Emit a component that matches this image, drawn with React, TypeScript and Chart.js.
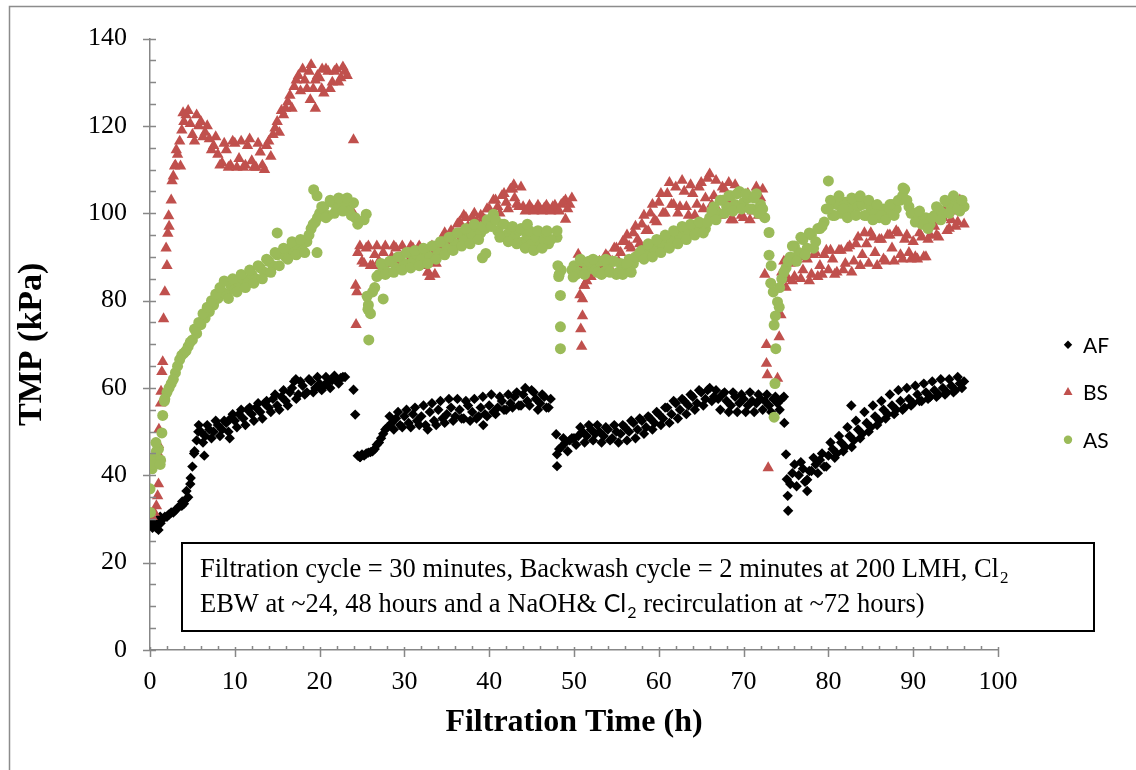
import React, { useEffect, useRef } from "react";
import { Chart, registerables } from "chart.js";

Chart.register(...registerables);

// Filtration time grid (h), primary readings
const hours = [
  0, 0.5, 1, 1.5, 2, 2.5, 3, 3.5, 4, 4.5, 5, 5.5, 6, 6.5, 7, 7.5, 8, 8.5, 9, 9.5,
  10, 10.5, 11, 11.5, 12, 12.5, 13, 13.5, 14, 14.5, 15, 15.5, 16, 16.5, 17, 17.5, 18, 18.5, 19, 19.5,
  20, 20.5, 21, 21.5, 22, 22.5, 23, 23.5, 24, 24.5, 25, 25.5, 26, 26.5, 27, 27.5, 28, 28.5, 29, 29.5,
  30, 30.5, 31, 31.5, 32, 32.5, 33, 33.5, 34, 34.5, 35, 35.5, 36, 36.5, 37, 37.5, 38, 38.5, 39, 39.5,
  40, 40.5, 41, 41.5, 42, 42.5, 43, 43.5, 44, 44.5, 45, 45.5, 46, 46.5, 47, 47.5, 48, 48.5, 49, 49.5,
  50, 50.5, 51, 51.5, 52, 52.5, 53, 53.5, 54, 54.5, 55, 55.5, 56, 56.5, 57, 57.5, 58, 58.5, 59, 59.5,
  60, 60.5, 61, 61.5, 62, 62.5, 63, 63.5, 64, 64.5, 65, 65.5, 66, 66.5, 67, 67.5, 68, 68.5, 69, 69.5,
  70, 70.5, 71, 71.5, 72, 72.5, 73, 73.5, 74, 74.5, 75, 75.5, 76, 76.5, 77, 77.5, 78, 78.5, 79, 79.5,
  80, 80.5, 81, 81.5, 82, 82.5, 83, 83.5, 84, 84.5, 85, 85.5, 86, 86.5, 87, 87.5, 88, 88.5, 89, 89.5,
  90, 90.5, 91, 91.5, 92, 92.5, 93, 93.5, 94, 94.5, 95, 95.5, 96,
];

// Filtration time grid (h), intermediate readings
const hoursB = [
  0.25, 0.75, 1.25, 1.75, 2.25, 2.75, 3.25, 3.75, 4.25, 4.75, 5.25, 5.75, 6.25, 6.75, 7.25, 7.75, 8.25, 8.75, 9.25, 9.75,
  10.25, 10.75, 11.25, 11.75, 12.25, 12.75, 13.25, 13.75, 14.25, 14.75, 15.25, 15.75, 16.25, 16.75, 17.25, 17.75, 18.25, 18.75, 19.25, 19.75,
  20.25, 20.75, 21.25, 21.75, 22.25, 22.75, 23.25, 23.75, 24.25, 24.75, 25.25, 25.75, 26.25, 26.75, 27.25, 27.75, 28.25, 28.75, 29.25, 29.75,
  30.25, 30.75, 31.25, 31.75, 32.25, 32.75, 33.25, 33.75, 34.25, 34.75, 35.25, 35.75, 36.25, 36.75, 37.25, 37.75, 38.25, 38.75, 39.25, 39.75,
  40.25, 40.75, 41.25, 41.75, 42.25, 42.75, 43.25, 43.75, 44.25, 44.75, 45.25, 45.75, 46.25, 46.75, 47.25, 47.75, 48.25, 48.75, 49.25, 49.75,
  50.25, 50.75, 51.25, 51.75, 52.25, 52.75, 53.25, 53.75, 54.25, 54.75, 55.25, 55.75, 56.25, 56.75, 57.25, 57.75, 58.25, 58.75, 59.25, 59.75,
  60.25, 60.75, 61.25, 61.75, 62.25, 62.75, 63.25, 63.75, 64.25, 64.75, 65.25, 65.75, 66.25, 66.75, 67.25, 67.75, 68.25, 68.75, 69.25, 69.75,
  70.25, 70.75, 71.25, 71.75, 72.25, 72.75, 73.25, 73.75, 74.25, 74.75, 75.25, 75.75, 76.25, 76.75, 77.25, 77.75, 78.25, 78.75, 79.25, 79.75,
  80.25, 80.75, 81.25, 81.75, 82.25, 82.75, 83.25, 83.75, 84.25, 84.75, 85.25, 85.75, 86.25, 86.75, 87.25, 87.75, 88.25, 88.75, 89.25, 89.75,
  90.25, 90.75, 91.25, 91.75, 92.25, 92.75, 93.25, 93.75, 94.25, 94.75, 95.25, 95.75,
];

// AF TMP (kPa)
const afValues = [
  29, 28.5, 27.5, 30, 30.5, 31.5, 32, 33, 33.5, 35, 42, 48, 50, 49, 50.5, 50, 51.5, 50.5, 52, 53,
  52.5, 54, 53, 55, 54, 55.5, 54.5, 56.5, 55.5, 57.5, 56, 58, 57, 59, 61.5, 58.5, 60.5, 59, 61.5, 60,
  61, 60.5, 61.5, 61.8, 62, 62.3, 62.5, null, 59.6, 44.5, 44.8, 45, 45.3, 46, 47.5, 49.5, 51, 52, 53, 51.5,
  53.5, 52, 54, 52.5, 53.5, 51.5, 54.5, 52.5, 55, 53, 54, 55.5, 53.5, 55, 53, 56, 54.5, 53, 55.5, 54,
  56, 54.5, 55.5, 57, 55, 56.5, 58, 56, 58.5, 57, 59.5, 57.5, 56.5, 58, 55.5, null, 44.8, 46.5, 47.5, 48,
  48.5, 49, 50, 49, 50.5, 49.5, 50, 49, 50.5, 48.5, 50, 49.5, 51, 50, 52, 50.5, 52.5, 51, 53, 52,
  54, 53, 55.5, 54, 56.5, 55, 57, 56, 58, 56.5, 59, 57.5, 60, 58, 57.5, 58.5, 57, 56, 58, 56.5,
  57.5, 56, 57, 56.5, 57.5, 57, 56, 57.5, 56.5, 57.5, 44.8, 38, 42.5, 40, 41.5, 39, 41, 42.5, 43.5, 42,
  44.5, 46, 45, 47.5, 46.5, 49, 48, 50.5, 49.5, 52, 51, 53.5, 52.5, 55, 54, 56, 55, 57, 55.5, 57.5,
  56.5, 58.5, 57, 59, 58, 59.5, 58.5, 60, 59, 60.5, 59.5, 61, 61.5,
];
const afValuesB = [
  29.5, 28, 29, 30.5, 31, 31.5, 32.5, 33, 34.5, 38, 45.5, 51.5, 47.5, 51.5, 48.5, 52.5, 49, 52.5, 50, 54,
  51, 55, 51.5, 55.5, 52.5, 56.5, 53, 57, 54.5, 58.5, 55, 59.5, 56, 60, 57.5, 61.5, 58.5, 62, 59, 62.5,
  59.5, 62.5, 60, 62.8, 61, 62.5, null, null, null, 44.2, 44.5, 45.2, 45.5, 47, 48.5, 50.5, 53.5, 50.5, 54.5, 51,
  55, 51, 55.5, 51.5, 56, 50.5, 56.5, 51.5, 57, 52, 57.5, 52.5, 57.5, 53, 57, 52.5, 57.5, 53.5, 58, 53.5,
  58.5, 54, 58, 55, 58.5, 55.5, 59, 56, 60, 56, 59, 55, 58.5, 55.5, 57.5, null, 46, 48.5, 45.5, 48.5,
  47, 51, 47.5, 51.5, 48, 51.5, 47.5, 51, 48, 51.5, 47.5, 51.5, 48, 52.5, 48.5, 53, 49.5, 53.5, 50.5, 54.5,
  51.5, 55.5, 52, 57, 53, 57.5, 54, 58.5, 55, 59.5, 56, 59.5, 57, 59.5, 55, 59, 54.5, 59, 54.5, 58.5,
  54.5, 59, 54.5, 58.5, 55, 58.5, 54.5, 58, 55, 58, null, 40.5, 37.5, 43, 38.5, 41, 44, 40.5, 45, 42,
  47.5, 44, 49, 45.5, 51, 46.5, 52.5, 48.5, 54.5, 50, 56, 51.5, 57, 53, 58.5, 54, 59.5, 55, 60, 56,
  60.5, 57, 61, 57.5, 61.5, 58, 62, 58.5, 62, 59, 62.5, 60,
];
const afExtraX = [0.3, 0.8, 1.2, 2.2, 3.8, 4.3, 4.8, 5.2, 5.7, 6.4, 9.4, 17.2, 24.2, 24.8, 39.3, 47.9, 48.0, 74.8, 75.1, 75.2, 75.25, 77.5, 82.7];
const afExtraY = [28, 29.5, 30.5, 31, 34, 36.4, 39.4, 45, 50, 44.5, 48.5, 62, 53.9, 44.2, 51.5, 49.4, 42.1, 52, 39.1, 35.3, 31.9, 36.4, 56];

// BS TMP (kPa)
const bsValues = [
  31, 31.5, 38, 66, 88, 103, 111, 116.5, 121, 123.5, 118, 122.5, 121, 118.5, 117, 115.5, 113.5, 111.5, 114.5, 111,
  116, 112.5, 110.5, 115.5, 112, 110.5, 114, 110, 116.5, 118, 121, 123.5, 124, 127, 129, 131.5, 133, 128.5, 134, 124,
  131, 127.5, 132.5, 130, 133, 131, 132.5, null, 116.8, 91, 89, 92, 88, 90.5, 89, 91, 88.5, 90, 92, 89.5,
  91, 89, 92, 90, 88, 91.5, 85.5, 91, 93, 94.5, 93.5, 96, 95, 98, 99.5, 97, 99, 98, 99.5, 98.5,
  101, 103, 101.5, 104, 102.5, 105.5, 103.5, 101.5, 101.5, 100.8, 101, 100.8, 101, 101.2, 101, 101.5, 100.8, 102, 103, 102,
  null, 90.6, 80.4, 84.5, 85.5, 87.5, 89, 88, 90, 89, 92, 91, 93.5, 92.5, 95.5, 94, 97.5, 96, 100, 98.5,
  102.5, 100, 104.5, 102, 106, 101.5, 105, 99.5, 104.5, 102, 107, 103.5, 109, 104, 100.5, 106, 103, 98.5, 106.5, 101,
  99, 104.5, 100.5, 106, 103.5, 86, null, null, 62.2, 86.5, 83, 88.5, 85.5, 90, 87, 89.5, 86, 91, 88, 90.5,
  87, 89.5, 86.5, 91.5, 88.5, 92.5, 89, 94.5, 90.5, 93, 95.5, 91, 94, 89.5, 95, 92, 96, 90.5, 94, 91,
  93.5, 89.5, 94.5, 90, 95, 97, 94.5, 99, 96, 98.5, 97, 103, 97.5,
];
const bsValuesB = [
  30.5, 33, 44, 82, 97, 108.5, 113.5, 119, 122.5, 120.5, 116.5, 120, 117.5, 120, 114.5, 117.5, 111, 116, 110.5, 116.5,
  110.5, 116.5, 111, 117, 110.5, 116, 111, 115.5, 113, 119.5, 118.5, 122.5, 125.5, 124, 130.5, 128, 130.5, 132.5, 128.5, 131.5,
  128.5, 133, 128.5, 132.5, 130, 133.5, 131.5, null, 83.5, 92.5, 88.5, 92.5, 88, 92.5, 88, 92.5, 88.5, 92.5, 88.5, 92.5,
  88, 92.5, 88.5, 92.5, 90.5, 86.5, 92.5, 88.5, 91.5, 95.5, 92, 95.5, 97.5, 94.5, 99, 96.5, 100, 97, 99, 101,
  99, 103, 100, 104.5, 101, 105.5, 102, 106, 100.5, 101.8, 100.5, 101.8, 100.5, 101.8, 100.5, 101.8, 100.5, 102.5, 101, 103.5,
  null, 88, 83.5, 86, 88, 86.5, 87.5, 90.5, 87.5, 92, 89, 93.5, 95, 92, 97, 93, 99.5, 96, 102, 98,
  104.5, 100, 107, 102, 100, 107.5, 101.5, 106.5, 99.5, 106, 101, 108, 102, 107.5, 99.5, 105.5, 107, 98.5, 105, 99.5,
  103.5, 98.5, 104, 99.5, 105.5, null, null, null, null, 89, 85, 84.5, 89.5, 85, 91, 84.5, 90.5, 85.5, 86, 91.5,
  91.5, 86, 91.5, 87, 92, 86.5, 93, 88, 95.5, 88.5, 94.5, 88, 94, 89, 95, 89, 95.5, 89.5, 95, 89.5,
  90, 95.5, 90, 94, 98, 95, 99.5, 101, 96.5, 100.5, 98, 102,
];
const bsExtraX = [0.9, 1.0, 1.05, 1.25, 1.3, 1.4, 1.6, 1.9, 2.1, 2.2, 2.6, 2.9, 3.1, 3.6, 3.9, 18.9, 19.5, 20.3, 24.0, 24.3, 24.4, 32.8, 33.6, 42.9, 49.0, 50.7, 50.8, 50.9, 51.0, 51.2, 72.7, 72.7, 72.8, 72.9, 74.2, 74.4];
const bsExtraY = [35.3, 47, 50.5, 56.5, 59.2, 63.7, 75.8, 92, 95.4, 99.4, 107.4, 110.8, 114.5, 110.8, 123, 126, 130.5, 133, 100, 74.5, 82, 86.5, 86, 106.5, 98.6, 81.3, 73.5, 69.5, 76.5, 83.5, 69.9, 65.6, 63, 41.7, 71.7, 76.7];

// AS TMP (kPa)
const asValues = [
  36.9, 44, 46, 53.7, 59, 61, 63.5, 66.5, 68, 69.5, 71, 72.5, 74.5, 76, 77.5, 79, 80.5, 82, 81.5, 83.5,
  82.5, 84, 85, 84, 86, 85, 87.5, 86.5, 89, 88, 90.5, 91, 90, 92, 91, 92.5, 91.5, 93.5, 96.5, 98,
  100, 101.5, 99.5, 102.5, 101, 103, 102, 100.5, 102.4, null, null, 99.8, 77, 83, 86, 87.5, 86.5, 89, 87.5, 90,
  88.5, 91, 89, 90.5, 89.5, 91.5, 90, 92.5, 91, 93.5, 92, 94.5, 93, 95.5, 94, 96, 95, 97, 95.5, 96.5,
  98, 99.8, 96, 97.5, 95, 96.5, 94.5, 96, 93.5, 95, 93, 94.5, 92.5, 94, 93, null, 94.5, 87, null, null,
  88, 86.5, 89, 87, 88.5, 87, 89, 86.5, 88, 89, 86, 88.5, 87.5, 89.5, 88.5, 90, 91.5, 90.5, 92.5, 91.5,
  93.5, 92.5, 94.5, 93.5, 95.5, 94.5, 96.5, 95.5, 97, 96, 97.5, 96.5, 99, 101.5, 100, 103, 101.5, 104, 102, 105,
  102.5, 103.5, 101, 104.5, 102, 99, 95.6, 82, 79.7, 85, 87.5, 90, 92.5, 91, 94, 92, 95, 93.5, 96.5, 98,
  107.4, 99.5, 102, 100, 102.5, 101, 103, 101.5, 102, 99.5, 101, 100, 99, 101, 100, 102, 101, 103, 105.5, 101.5,
  100, 98.5, 97.5, 99, 97.5, 99.5, 101, 100, 102.5, 101, 103, 100.5, 101.5,
];
const asValuesB = [
  41.5, 45.5, 43.5, 57.5, 60, 62, 65, 67.5, 68.5, 70.5, 73.5, 75, 77, 78.5, 80, 81.5, 83, 84.5, 80.5, 85,
  82, 86, 83, 87, 84, 88, 85, 89.5, 86.5, 91, 88, 92, 89.5, 93.5, 90.5, 94, 91, 95, 97.5, 99,
  101.5, 99, 103, 100, 103.5, 100.5, 103.5, 99.5, null, null, 98.5, 79, 82, 85.5, 88.5, 86, 89, 86.5, 90, 87,
  91, 87.5, 91.5, 88, 92, 88.5, 92.5, 89.5, 93.5, 90.5, 94.5, 91.5, 95.5, 92.5, 96.5, 93, 97.5, 94, 97, 98.5,
  97, 98.5, 94.5, 97.5, 93.5, 97, 93, 96.5, 92, 96, 91.5, 96, 92, 95.5, 94, null, 86, null, null, 87,
  86, 89.5, 86, 89, 89.5, 86.5, 86, 89.5, 86.5, 89, 86.5, 86, 88.5, 86.5, 90, 91, 89.5, 93, 90, 94,
  91, 95, 92, 96, 93, 97, 94, 97.5, 95, 98, 95.5, 98, 100.5, 98.5, 103, 100, 104, 100.5, 104.5, 101,
  104.5, 101, 103.5, 100, 101, null, 88, 76.5, 83, 86.5, 89, 92.5, 89, 94.5, 90.5, 95.5, 92, 96.5, 97, 101,
  103, 99.5, 104, 101, 99, 103.5, 99.5, 104, 99.5, 103, 98.5, 102, 99.5, 98.5, 102, 99.5, 103, 104, 103, 100,
  98, 100.5, 97.5, 96.5, 99, 101.5, 98.5, 103, 100, 104, 101, 103,
];
const asExtraX = [0.05, 0.2, 0.4, 0.7, 1.2, 1.4, 1.7, 15.0, 19.3, 19.7, 19.7, 24.2, 24.5, 25.6, 25.7, 25.8, 27.5, 39.2, 39.6, 44.5, 46.8, 48.0, 48.1, 48.2, 48.4, 48.4, 48.4, 49.9, 73.0, 73.2, 73.6, 73.8, 73.7, 73.6, 74.2, 80.0, 88.8];
const asExtraY = [31.5, 42, 42.5, 47.5, 42.5, 49.7, 57, 95.5, 105.4, 104, 91, 99, 97.5, 81, 78, 71, 80.4, 89.8, 90.8, 97.5, 96, 96, 88, 85.5, 81.2, 74, 69, 85.4, 90.4, 84, 74.4, 69, 61, 53.3, 78.5, 101, 105.8];

const seriesNames = ["AF", "BS", "AS"];
const xTitle = "Filtration Time (h)";
const yTitle = "TMP (kPa)";
const noteLine1 = "Filtration cycle = 30 minutes, Backwash cycle = 2 minutes at 200 LMH, Cl";
const noteLine2a = "EBW at ~24, 48 hours and a NaOH& ";
const noteLine2b = "Cl";
const noteLine2c = " recirculation at ~72 hours)";
const noteSub = "2";

const AXIS_COLOR = "#878787";
const SERIF = '"Liberation Serif", "Times New Roman", serif';
const SANS = 'Lato, "Liberation Sans", sans-serif';

function toPoints(values: (number | null)[], valuesB: (number | null)[], ex: number[], ey: number[]) {
  const pts: { x: number; y: number }[] = [];
  hours.forEach((h, i) => {
    const v = values[i];
    if (v !== null && v !== undefined) pts.push({ x: h, y: v });
  });
  hoursB.forEach((h, i) => {
    const v = valuesB[i];
    if (v !== null && v !== undefined) pts.push({ x: h, y: v });
  });
  ex.forEach((x, i) => pts.push({ x, y: ey[i] }));
  return pts;
}

function drawMarker(ctx: CanvasRenderingContext2D, style: string, x: number, y: number, r: number, color: string) {
  ctx.fillStyle = color;
  ctx.beginPath();
  if (style === "rectRot") {
    ctx.moveTo(x, y - r);
    ctx.lineTo(x + r, y);
    ctx.lineTo(x, y + r);
    ctx.lineTo(x - r, y);
  } else if (style === "triangle") {
    ctx.moveTo(x, y - r);
    ctx.lineTo(x + 0.866 * r, y + 0.5 * r);
    ctx.lineTo(x - 0.866 * r, y + 0.5 * r);
  } else {
    ctx.arc(x, y, r, 0, Math.PI * 2);
  }
  ctx.closePath();
  ctx.fill();
}

const decorPlugin = {
  id: "decor",
  afterDraw(chart: any) {
    const { ctx, chartArea, scales } = chart;
    const xs = scales.x;
    const ys = scales.y;
    ctx.save();

    // outer frame (left and top edges visible)
    ctx.strokeStyle = "#8c8c8c";
    ctx.lineWidth = 1.5;
    ctx.beginPath();
    ctx.moveTo(9.5, chart.height);
    ctx.lineTo(9.5, 6.5);
    ctx.lineTo(chart.width, 6.5);
    ctx.stroke();

    // axis tick marks (major + minor)
    ctx.strokeStyle = AXIS_COLOR;
    ctx.lineWidth = 1.5;
    ctx.beginPath();
    const left = chartArea.left;
    const bottom = chartArea.bottom;
    for (let v = 0; v <= 140; v += 5) {
      const py = Math.round(ys.getPixelForValue(v)) + 0.5;
      if (v % 20 === 0) {
        ctx.moveTo(left - 7, py);
        ctx.lineTo(left + 6, py);
      } else {
        ctx.moveTo(left, py);
        ctx.lineTo(left + 6, py);
      }
    }
    for (let v = 0; v <= 100; v += 2) {
      const px = Math.round(xs.getPixelForValue(v)) + 0.5;
      if (v % 10 === 0) {
        ctx.moveTo(px, bottom - 3);
        ctx.lineTo(px, bottom + 7);
      } else {
        ctx.moveTo(px, bottom - 4);
        ctx.lineTo(px, bottom);
      }
    }
    ctx.stroke();

    // legend
    const lx = chartArea.right + 70;
    const midY = (chartArea.top + chartArea.bottom) / 2;
    const legendSizes = [4.2, 5.2, 4.2];
    chart.data.datasets.forEach((ds: any, i: number) => {
      const y = midY + 0.5 + i * 47.5;
      drawMarker(ctx, ds.pointStyle, lx, y, legendSizes[i], ds.backgroundColor);
      ctx.fillStyle = "#000";
      ctx.font = `21px ${SANS}`;
      ctx.textAlign = "left";
      ctx.textBaseline = "middle";
      ctx.fillText(ds.label, lx + 15, y + 1);
    });

    // annotation box
    const bx = 182, by = 543, bw = 912, bh = 88;
    ctx.fillStyle = "#fff";
    ctx.fillRect(bx, by, bw, bh);
    ctx.strokeStyle = "#000";
    ctx.lineWidth = 2;
    ctx.strokeRect(bx, by, bw, bh);

    ctx.fillStyle = "#000";
    ctx.textAlign = "left";
    ctx.textBaseline = "alphabetic";
    const tx = 200;
    const y1 = 577;
    const y2 = 612;
    ctx.font = `26.5px ${SERIF}`;
    ctx.fillText(noteLine1, tx, y1);
    const w = ctx.measureText(noteLine1).width;
    ctx.font = `17px ${SERIF}`;
    ctx.fillText(noteSub, tx + w + 1, y1 + 6);

    ctx.font = `26.5px ${SERIF}`;
    ctx.fillText(noteLine2a, tx, y2);
    let cx = tx + ctx.measureText(noteLine2a).width;
    ctx.font = `25px ${SANS}`;
    ctx.fillText(noteLine2b, cx, y2);
    cx += ctx.measureText(noteLine2b).width;
    ctx.font = `16px ${SANS}`;
    ctx.fillText(noteSub, cx + 1, y2 + 6);
    cx += ctx.measureText(noteSub).width + 1;
    ctx.font = `26.5px ${SERIF}`;
    ctx.fillText(noteLine2c, cx, y2);

    ctx.restore();
  },
};

export default function App() {
  const ref = useRef<HTMLCanvasElement>(null);

  useEffect(() => {
    document.body.style.margin = "0";
    const canvas = ref.current;
    if (!canvas) return;

    const tickFont = { family: SERIF, size: 26 };

    const chart = new Chart(canvas, {
      type: "scatter",
      data: {
        datasets: [
          {
            label: seriesNames[0],
            data: toPoints(afValues, afValuesB, afExtraX, afExtraY),
            pointStyle: "rectRot",
            pointRadius: 5.2,
            pointHoverRadius: 5.2,
            backgroundColor: "#000000",
            borderColor: "#000000",
            pointBorderWidth: 0,
            order: 3,
          },
          {
            label: seriesNames[1],
            data: toPoints(bsValues, bsValuesB, bsExtraX, bsExtraY),
            pointStyle: "triangle",
            pointRadius: 6.6,
            pointHoverRadius: 6.6,
            backgroundColor: "#C0504D",
            borderColor: "#C0504D",
            pointBorderWidth: 0,
            order: 2,
          },
          {
            label: seriesNames[2],
            data: toPoints(asValues, asValuesB, asExtraX, asExtraY),
            pointStyle: "circle",
            pointRadius: 5.5,
            pointHoverRadius: 5.5,
            backgroundColor: "#9BBB59",
            borderColor: "#9BBB59",
            pointBorderWidth: 0,
            order: 1,
          },
        ],
      },
      options: {
        responsive: false,
        animation: false,
        layout: { padding: { top: 35, right: 138, bottom: 0, left: 0 } },
        plugins: {
          legend: { display: false },
          tooltip: { enabled: false },
        },
        scales: {
          x: {
            type: "linear",
            min: 0,
            max: 100,
            ticks: { stepSize: 10, font: tickFont, color: "#000", padding: 17, maxRotation: 0 },
            grid: { display: false, drawTicks: false },
            border: { display: true, color: AXIS_COLOR, width: 1.5 },
            title: {
              display: true,
              text: xTitle,
              font: { family: SERIF, size: 32, weight: "bold" },
              color: "#000",
              padding: { top: 0, bottom: 27.8 },
            },
            afterFit: (s: any) => {
              s.height = 120;
            },
          },
          y: {
            type: "linear",
            min: 0,
            max: 140,
            ticks: { stepSize: 20, font: tickFont, color: "#000", padding: 23 },
            grid: { display: false, drawTicks: false },
            border: { display: true, color: AXIS_COLOR, width: 1.5 },
            title: {
              display: true,
              text: yTitle,
              font: { family: SERIF, size: 34, weight: "bold" },
              color: "#000",
              padding: { top: 11.6, bottom: 0 },
            },
            afterFit: (s: any) => {
              s.width = 150;
            },
          },
        },
      },
      plugins: [decorPlugin],
    });

    return () => chart.destroy();
  }, []);

  return (
    <div style={{ width: 1136, height: 770 }}>
      <canvas ref={ref} width={1136} height={770} style={{ display: "block" }} />
    </div>
  );
}
